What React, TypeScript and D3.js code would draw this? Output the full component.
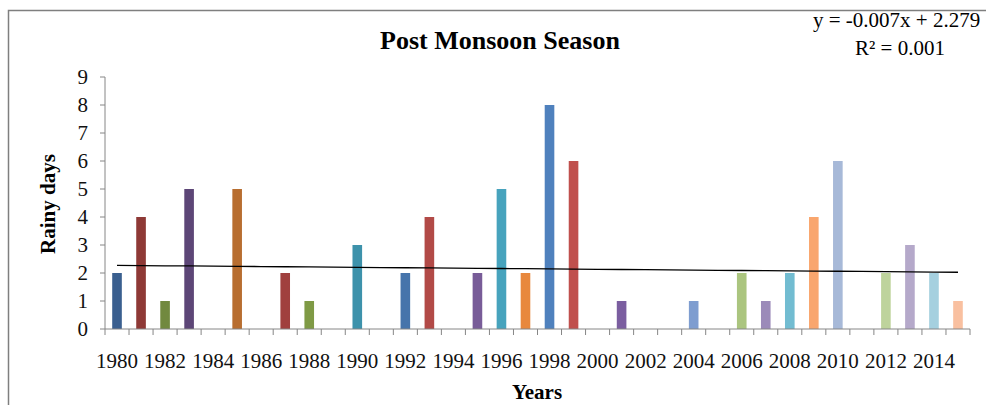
import * as d3 from "d3";

const W = 986;
const H = 405;

// Post monsoon rainy days per year
const years = d3.range(1980, 2016).map(String);
const rainyDays = [
  2, 4, 1, 5, 0, 5, 0, 2, 1, 0, 3, 0, 2, 4, 0, 2, 5, 2, 8, 6, 0, 1, 0, 0, 1, 0,
  2, 1, 2, 4, 6, 0, 2, 3, 2, 1,
];
const yTicks = [0, 1, 2, 3, 4, 5, 6, 7, 8, 9];
// linear trend as printed on the chart: y = slope * x + intercept (x = 1..n)
const trend = { slope: -0.007, intercept: 2.279 };
const trendText = ["y = -0.007x + 2.279", "R\u00b2 = 0.001"];

// Excel "vary colours by point" palette, darkest shades first
const barColors = [
  "#3a5f8f", "#8e3936", "#71893f", "#5d4677", "#357d91", "#b86e30",
  "#426da1", "#a0403e", "#7f9a45", "#6b5389", "#3d92ab", "#d07c37",
  "#4674ab", "#b24a47", "#8dab52", "#785c98", "#47a3bd", "#e8883d",
  "#4f81bd", "#c0504d", "#9bbb59", "#7b5ea0", "#4bacc6", "#f79646",
  "#7e9dd0", "#d07d7b", "#abc57f", "#9b8ab9", "#72bcd1", "#f9a66e",
  "#a7b9d8", "#dba9a8", "#bed39c", "#b5a9ca", "#a5d0df", "#f9c0a0",
];

const margin = { left: 105, right: 970, top: 77, bottom: 329 };
const serif = "'Liberation Serif', 'Times New Roman', serif";

export default function App() {
  const x = d3
    .scaleBand<string>()
    .domain(years)
    .range([margin.left, margin.right])
    .paddingInner(0.6)
    .paddingOuter(0.3);
  const y = d3.scaleLinear().domain([0, 9]).range([margin.bottom, margin.top]);
  const step = x.step();
  const bounds = d3.range(years.length + 1).map((i) => margin.left + i * step);

  const trendLine = d3
    .line<number>()
    .x((i) => x(years[i])! + x.bandwidth() / 2)
    .y((i) => y(trend.slope * (i + 1) + trend.intercept));

  return (
    <svg
      width={W}
      height={H}
      style={{ position: "absolute", left: 0, top: 0, background: "#fff" }}
      fontFamily={serif}
    >
      <rect x={8.5} y={10.5} width={W + 10} height={H + 10} fill="#fff" stroke="#7f7f7f" strokeWidth={1.5} />

      <text x={500} y={49} textAnchor="middle" fontSize={26} fontWeight="bold">
        Post Monsoon Season
      </text>
      <text x={813} y={27} fontSize={21}>
        {trendText[0]}
      </text>
      <text x={900} y={55} fontSize={21} textAnchor="middle">
        {trendText[1]}
      </text>

      {/* y axis */}
      <line x1={margin.left} x2={margin.left} y1={margin.top} y2={margin.bottom} stroke="#868686" />
      {yTicks.map((t) => (
        <g key={t}>
          <line x1={margin.left - 5} x2={margin.left} y1={y(t)} y2={y(t)} stroke="#868686" />
          <text x={88} y={y(t)} dy="0.35em" textAnchor="end" fontSize={21} fill="#111">
            {t}
          </text>
        </g>
      ))}

      {/* bars */}
      {rainyDays.map((v, i) => (
        <rect
          key={years[i]}
          x={x(years[i])}
          y={y(v)}
          width={x.bandwidth()}
          height={y(0) - y(v)}
          fill={barColors[i]}
        />
      ))}

      {/* x axis */}
      <line x1={margin.left} x2={margin.right} y1={margin.bottom} y2={margin.bottom} stroke="#868686" />
      {bounds.map((b, i) => (
        <line key={i} x1={b} x2={b} y1={margin.bottom} y2={margin.bottom + 6} stroke="#868686" />
      ))}
      {years.map((yr, i) =>
        i % 2 === 0 ? (
          <text
            key={yr}
            x={x(yr)! + x.bandwidth() / 2}
            y={368}
            textAnchor="middle"
            fontSize={21}
            fill="#111"
          >
            {yr}
          </text>
        ) : null
      )}

      <path d={trendLine(d3.range(years.length)) ?? ""} fill="none" stroke="#000" strokeWidth={1.3} />

      <text
        transform="translate(55,204) rotate(-90)"
        textAnchor="middle"
        fontSize={21}
        fontWeight="bold"
      >
        Rainy days
      </text>
      <text x={537} y={399} textAnchor="middle" fontSize={21} fontWeight="bold">
        Years
      </text>
    </svg>
  );
}
